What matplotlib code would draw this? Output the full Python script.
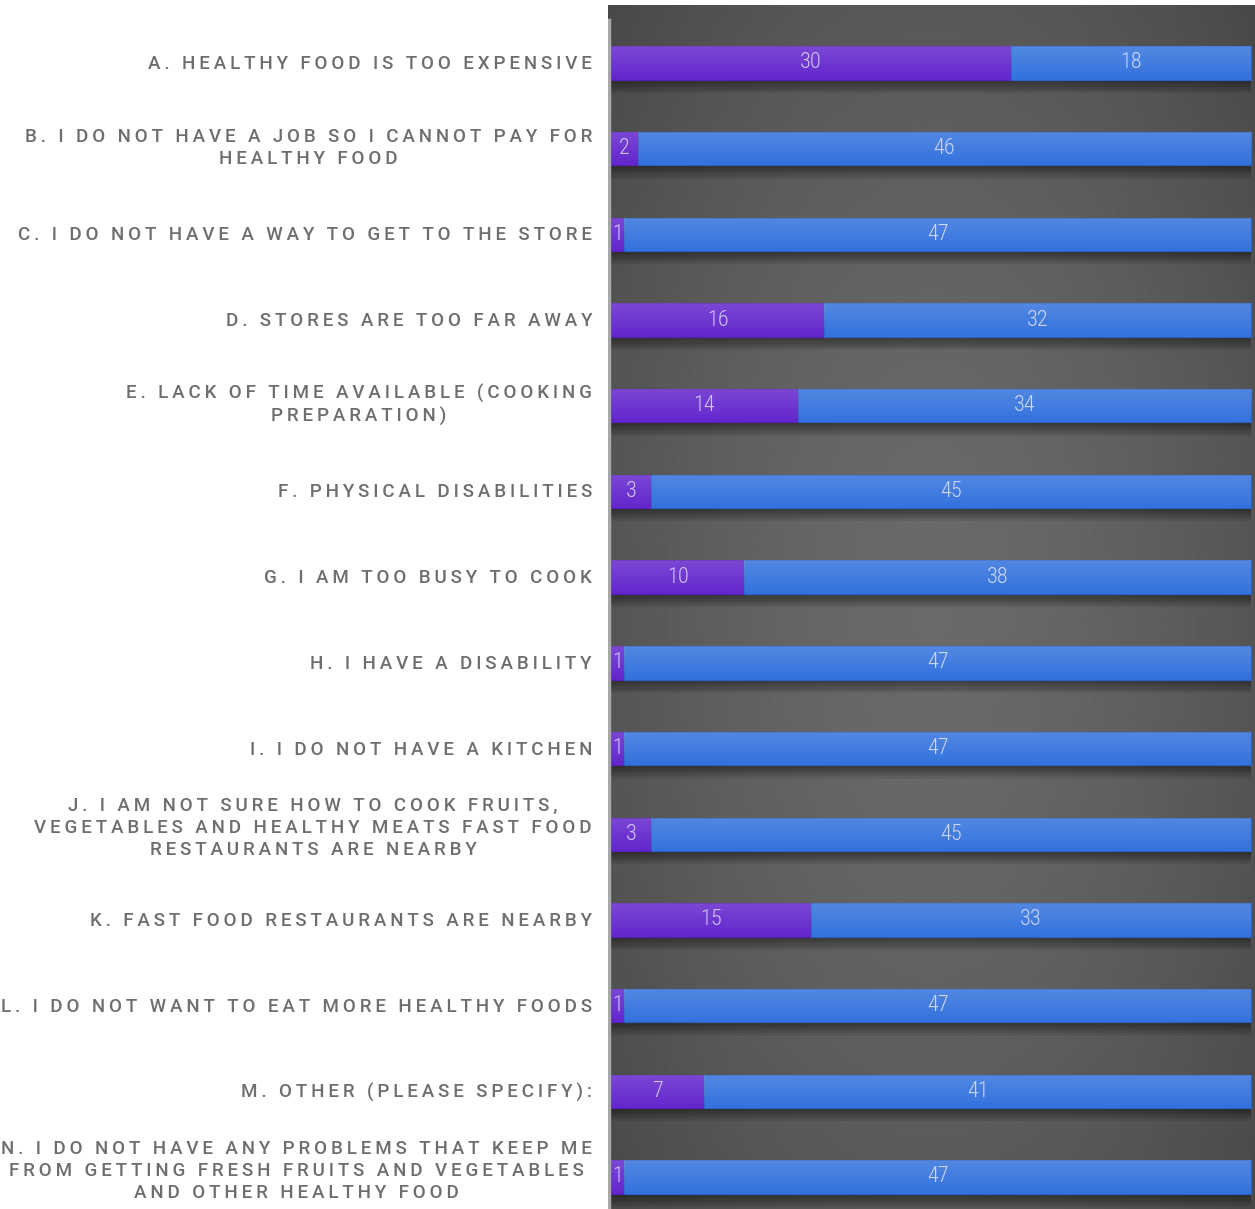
import numpy as np
import matplotlib.pyplot as plt

# survey answers, two response groups per barrier
labels = [
    "A. HEALTHY FOOD IS TOO EXPENSIVE",
    "B. I DO NOT HAVE A JOB SO I CANNOT PAY FOR\nHEALTHY FOOD",
    "C. I DO NOT HAVE A WAY TO GET TO THE STORE",
    "D. STORES ARE TOO FAR AWAY",
    "E. LACK OF TIME AVAILABLE (COOKING\nPREPARATION)",
    "F. PHYSICAL DISABILITIES",
    "G. I AM TOO BUSY TO COOK",
    "H. I HAVE A DISABILITY",
    "I. I DO NOT HAVE A KITCHEN",
    "J. I AM NOT SURE HOW TO COOK FRUITS,\nVEGETABLES AND HEALTHY MEATS FAST FOOD\nRESTAURANTS ARE NEARBY",
    "K. FAST FOOD RESTAURANTS ARE NEARBY",
    "L. I DO NOT WANT TO EAT MORE HEALTHY FOODS",
    "M. OTHER (PLEASE SPECIFY):",
    "N. I DO NOT HAVE ANY PROBLEMS THAT KEEP ME\nFROM GETTING FRESH FRUITS AND VEGETABLES\nAND OTHER HEALTHY FOOD",
]
yes_counts = [30, 2, 1, 16, 14, 3, 10, 1, 1, 3, 15, 1, 7, 1]
no_counts = [18, 46, 47, 32, 34, 45, 38, 47, 47, 45, 33, 47, 41, 47]

purple = "#6326cd"
blue = "#3372dd"

W, H = 1255, 1209
fig = plt.figure(figsize=(W / 100, H / 100), dpi=100)
fig.patch.set_facecolor("white")

# panel rectangle in pixels
px0, px1 = 608, 1255
py0, py1 = 5, 1209
rect = [px0 / W, (H - py1) / H, (px1 - px0) / W, (py1 - py0) / H]

# dark radial background
bg = fig.add_axes(rect, zorder=0)
gx, gy = np.meshgrid(np.linspace(-1, 1, 300), np.linspace(-1, 1, 300))
r = np.sqrt((gx * 0.9) ** 2 + (gy * 0.8) ** 2)
shade = 0.415 - 0.13 * np.clip(r / 1.2, 0, 1) ** 1.6
bg.imshow(shade, cmap="gray", vmin=0, vmax=1, aspect="auto",
          extent=[0, 1, 0, 1], interpolation="bilinear")
bg.set_axis_off()

ax = fig.add_axes(rect, zorder=1)
ax.patch.set_alpha(0)
# 48 units span pixel 611..1251
upx = 48 / 640
xlim = ((px0 - 611) * upx, (px1 - 611) * upx)
rowpx = (1177 - 63) / 13
ylim = ((py1 - 63) / rowpx, (py0 - 63) / rowpx)
for s in ax.spines.values():
    s.set_visible(False)
ax.set_xticks([])
ax.set_yticks([])

y = np.arange(len(labels))
yes = np.array(yes_counts)
no = np.array(no_counts)
bh = 0.39

# soft drop shadow under each bar
for k in range(6):
    ax.barh(y + 0.03 + 0.025 * k, yes + no, height=bh, left=0,
            color="black", alpha=0.08, linewidth=0, zorder=1)

bars_yes = ax.barh(y, yes, height=bh, color=purple, edgecolor="#5520b5",
                   linewidth=0.8, zorder=2)
bars_no = ax.barh(y, no, left=yes, height=bh, color=blue, edgecolor="#2c62c4",
                  linewidth=0.8, zorder=2)

# light sheen from the top of each bar
grad = np.linspace(0.16, 0.0, 64).reshape(-1, 1)
sheen = np.zeros((64, 1, 4))
sheen[..., :3] = 1
sheen[..., 3] = grad
for p in list(bars_yes) + list(bars_no):
    x0, y0 = p.get_x(), p.get_y()
    im = ax.imshow(sheen, extent=[x0, x0 + p.get_width(), y0 + p.get_height(), y0],
                   aspect="auto", interpolation="bilinear", zorder=3)
    im.set_clip_path(p)
ax.set_xlim(*xlim)
ax.set_ylim(*ylim)

# vertical axis line
ax.axvline(-0.15, ymin=0, ymax=(py1 - 20) / (py1 - py0), color="#a8a8a8", lw=2.5, zorder=4)

num_font = ["Roboto Condensed", "DejaVu Sans"]
for i in range(len(labels)):
    ax.text(yes[i] / 2, y[i], str(yes[i]), ha="center", va="center",
            color="#cfc6f0", fontsize=16, family=num_font, stretch="condensed",
            weight="light", zorder=5)
    ax.text(yes[i] + no[i] / 2, y[i], str(no[i]), ha="center", va="center",
            color="#cdd6f2", fontsize=16, family=num_font, stretch="condensed",
            weight="light", zorder=5)


def spaced(s):
    return "\n".join("\u2009".join(line) for line in s.split("\n"))


shift = {1: 1, 2: -1, 3: -6}
for i, lab in enumerate(labels):
    ypx = 63 + rowpx * i + shift[lab.count("\n") + 1]
    fig.text(592 / W, 1 - ypx / H, spaced(lab), ha="right", va="center",
             multialignment="center", color="#6e6e6e", fontsize=13.5,
             family=["Roboto", "DejaVu Sans"], weight="medium", linespacing=1.3)

fig.savefig("out.png", dpi=100)
